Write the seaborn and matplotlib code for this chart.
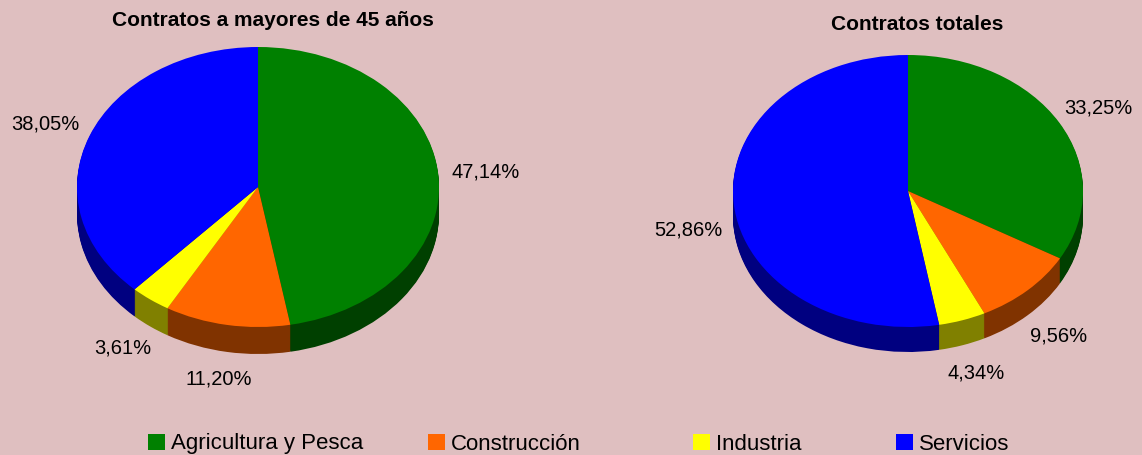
import numpy as np
import matplotlib
matplotlib.use('Agg')
import matplotlib.pyplot as plt
from matplotlib.patches import Patch
import seaborn as sns

# Datos
categorias = ['Agricultura y Pesca', 'Construcción', 'Industria', 'Servicios']
mayores_45 = [47.14, 11.20, 3.61, 38.05]
totales = [33.25, 9.56, 4.34, 52.86]
titulos = ['Contratos a mayores de 45 años', 'Contratos totales']

colores = ['#008000', '#ff6600', '#ffff00', '#0000ff']
oscuros = ['#004000', '#803300', '#808000', '#000080']
fondo = '#dfbfc0'

sns.set_theme(style='white')
plt.rcParams['font.family'] = ['Liberation Sans', 'DejaVu Sans']
plt.rcParams['text.color'] = 'black'

W, H = 1142, 455
fig = plt.figure(figsize=(W / 100, H / 100), dpi=100, facecolor=fondo)

# centro x, centro y, radio x, radio y, profundidad (px), posicion del titulo
geometria = [
    dict(cx=258, cy=187, rx=181, ry=140, prof=27, tx=273, ty=20),
    dict(cx=908, cy=191, rx=175, ry=136, prof=25, tx=917, ty=25),
]

for valores, titulo, g in zip([mayores_45, totales], titulos, geometria):
    ax = fig.add_axes([0, 0, 1, 1])
    ax.patch.set_alpha(0)
    ry = g['ry']
    # lateral (efecto 3D): pilas de tartas oscuras
    for k in range(g['prof'], 0, -1):
        ax.pie(valores, colors=oscuros, startangle=90, counterclock=False,
               center=(0, -k / ry), radius=1, wedgeprops=dict(linewidth=0))
    ax.pie(valores, colors=colores, startangle=90, counterclock=False,
           center=(0, 0), radius=1, wedgeprops=dict(linewidth=0))

    # etiquetas
    acum = np.cumsum([0] + valores[:-1])
    for v, a in zip(valores, acum):
        th = np.deg2rad(90 - 3.6 * (a + v / 2))
        x = 1.26 * np.cos(th)
        y = 1.22 * np.sin(th)
        if np.sin(th) < 0:
            y -= 24 / ry
        ax.text(x, y, f'{v:.2f}%'.replace('.', ','), ha='center', va='center',
                fontsize=14.5, color='black')

    ax.set_aspect('auto')
    ax.set_xlim(-g['cx'] / g['rx'], (W - g['cx']) / g['rx'])
    ax.set_ylim(-(H - g['cy']) / ry, g['cy'] / ry)
    ax.axis('off')

    fig.text(g['tx'] / W, 1 - g['ty'] / H, titulo, ha='center', va='center',
             fontsize=15, fontweight='bold', color='black')

# leyenda: una entrada por posicion, como en el original
pos_leyenda = [148, 428, 693, 896]
for c, nombre, px in zip(colores, categorias, pos_leyenda):
    fig.legend([Patch(facecolor=c, edgecolor='none')], [nombre], loc='center left',
               bbox_to_anchor=(px / W, 1 - 444 / H), frameon=False, fontsize=16,
               handlelength=0.75, handleheight=0.75, handletextpad=0.3,
               borderaxespad=0, borderpad=0, labelcolor='black')

fig.savefig('out.png', dpi=100, facecolor=fondo)
